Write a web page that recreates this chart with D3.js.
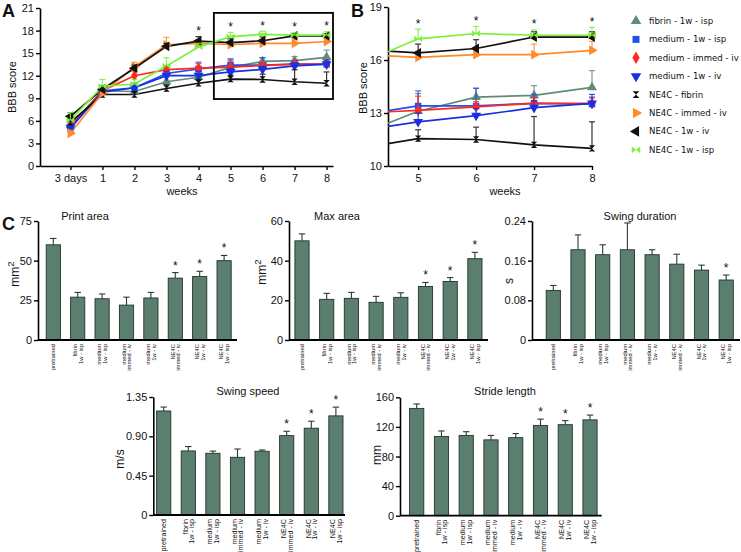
<!DOCTYPE html>
<html><head><meta charset="utf-8">
<script src="https://cdn.jsdelivr.net/npm/d3@7"></script>
<style>
body{margin:0;background:#fff}
svg{display:block}
text{font-family:"Liberation Sans",Arial,sans-serif;fill:#111}
</style>
</head><body>
<svg id="chart" width="741" height="552"></svg>
<script>
// ---------------- DATA ----------------
const weekLabels = ["3 days","1","2","3","4","5","6","7","8"];
const weekPos = [0,1,2,3,4,5,6,7,8];

const seriesNames = ["fibrin - 1w - isp","medium - 1w - isp","medium - immed - iv","medium - 1w - iv",
                     "NE4C - fibrin","NE4C - immed - iv","NE4C - 1w - iv","NE4C - 1w - isp"];

const fibrin1wIsp      = [5.4, 10.0, 9.9, 11.2, 11.8, 13.1, 13.9, 14.0, 14.45];
const fibrin1wIspErr   = [0.6, 0.6, 0.5, 0.7, 0.6, 1.0, 0.5, 0.55, 0.95];
const medium1wIsp      = [5.0, 10.0, 10.4, 12.3, 12.9, 13.4, 13.4, 13.55, 13.5];
const medium1wIspErr   = [0.5, 0.5, 0.5, 0.8, 0.9, 0.85, 1.0, 0.5, 0.4];
const mediumImmedIv    = [5.3, 10.0, 12.0, 12.8, 13.0, 13.15, 13.35, 13.55, 13.55];
const mediumImmedIvErr = [0.5, 0.5, 0.6, 0.5, 0.6, 0.8, 0.3, 0.3, 0.3];
const medium1wIv       = [5.1, 9.8, 10.4, 12.0, 12.0, 12.5, 12.85, 13.3, 13.55];
const medium1wIvErr    = [0.5, 0.5, 0.6, 0.6, 0.6, 0.5, 0.4, 0.4, 0.5];
const ne4cFibrin       = [5.8, 9.5, 9.5, 10.3, 11.0, 11.55, 11.5, 11.2, 11.0];
const ne4cFibrinErr    = [0.5, 0.5, 0.4, 0.5, 0.5, 0.5, 0.7, 1.6, 1.5];
const ne4cImmedIv      = [4.35, 9.7, 13.2, 16.1, 16.3, 16.15, 16.3, 16.3, 16.55];
const ne4cImmedIvErr   = [0.4, 0.5, 0.6, 1.0, 0.5, 0.3, 0.3, 0.6, 0.5];
const ne4c1wIv         = [6.6, 10.2, 13.0, 15.9, 16.6, 16.4, 16.65, 17.3, 17.3];
const ne4c1wIvErr      = [0.5, 0.5, 0.4, 0.4, 0.6, 0.5, 0.5, 0.3, 0.3];
const ne4c1wIsp        = [6.1, 10.6, 10.9, 13.3, 15.8, 17.2, 17.5, 17.4, 17.4];
const ne4c1wIspErr     = [1.0, 0.9, 0.6, 1.1, 0.5, 0.55, 0.4, 0.3, 0.45];

const starWeeksA = [4,5,6,7,8];
const starWeeksB = [5,6,7,8];
const ticksA = [0,3,6,9,12,15,18,21];
const ticksB = [10,13,16,19];
const weeksB = [5,6,7,8];

const barCategories = [["pretrained"],["fibrin","1w - isp"],["medium","1w - isp"],["medium","immed - iv"],
                       ["medium","1w - iv"],["NE4C","immed - iv"],["NE4C","1w - iv"],["NE4C","1w - isp"]];
const printArea        = [60, 27, 26, 22, 26.5, 39, 40, 50];
const printAreaErr     = [4, 3, 3, 5, 3.5, 3.5, 3.3, 3.3];
const printAreaStars   = [5,6,7];
const printAreaTicks   = [0,25,50,75];
const maxArea          = [50, 20.5, 21, 19, 21.5, 27, 29.5, 41];
const maxAreaErr       = [3.5, 3, 3, 3, 2.3, 2, 2, 3.2];
const maxAreaStars     = [5,6,7];
const maxAreaTicks     = [0,20,40,60];
const swingDuration    = [0.100, 0.182, 0.172, 0.182, 0.172, 0.153, 0.141, 0.121];
const swingDurationErr = [0.010, 0.030, 0.020, 0.054, 0.010, 0.020, 0.010, 0.010];
const swingDurationStars = [7];
const swingDurationTicks = [0,0.08,0.16,0.24];
const swingSpeed       = [1.19, 0.733, 0.706, 0.66, 0.729, 0.908, 0.993, 1.134];
const swingSpeedErr    = [0.045, 0.05, 0.025, 0.095, 0.015, 0.05, 0.08, 0.10];
const swingSpeedStars  = [5,6,7];
const swingSpeedTicks  = [0,0.45,0.90,1.35];
const strideLength     = [145, 107, 108.5, 102.5, 105.5, 122, 123, 129.5];
const strideLengthErr  = [6, 7.5, 5, 6, 5.5, 8.5, 5.5, 6.5];
const strideLengthStars= [5,6,7];
const strideLengthTicks= [0,40,80,120,160];

// ---------------- STYLE ----------------
const hourglass = {draw(c, size){const r=Math.sqrt(size)/2; c.moveTo(-r,-r); c.lineTo(r,-r); c.lineTo(-r,r); c.lineTo(r,r); c.closePath();}};
const bowtie = {draw(c, size){const r=Math.sqrt(size)/2, w=r*1.25; c.moveTo(-w,-r); c.lineTo(-w,r); c.lineTo(w,-r); c.lineTo(w,r); c.closePath();}};
const styles = [
  {color:"#5f8b79", type:d3.symbolTriangle, rot:0, size:42},
  {color:"#1f4ef2", type:d3.symbolSquare, rot:0, size:42},
  {color:"#ff2a1e", type:d3.symbolDiamond, rot:0, size:40},
  {color:"#1a30e0", type:d3.symbolTriangle, rot:180, size:42},
  {color:"#111111", type:hourglass, rot:0, size:40},
  {color:"#ff8a2a", type:d3.symbolTriangle, rot:90, size:42},
  {color:"#111111", type:d3.symbolTriangle, rot:-90, size:42},
  {color:"#7cf03a", type:bowtie, rot:0, size:40}
];
const valueArrays = [fibrin1wIsp, medium1wIsp, mediumImmedIv, medium1wIv, ne4cFibrin, ne4cImmedIv, ne4c1wIv, ne4c1wIsp];
const errArrays = [fibrin1wIspErr, medium1wIspErr, mediumImmedIvErr, medium1wIvErr, ne4cFibrinErr, ne4cImmedIvErr, ne4c1wIvErr, ne4c1wIspErr];
const series = seriesNames.map((n,i)=>({name:n, pts: weekPos.map((w,j)=>({w, v:valueArrays[i][j], e:errArrays[i][j]})), ...styles[i]}));

const svg = d3.select("#chart");
const TF = 11;

function styleAxis(g, fs){
  g.selectAll(".domain").attr("stroke","#000").attr("stroke-width",1.6);
  g.selectAll(".tick line").attr("stroke","#000").attr("stroke-width",1.4);
  g.selectAll(".tick text").attr("font-size",fs).attr("fill","#111").attr("font-family",'"Liberation Sans",Arial,sans-serif');
}

function drawLinePanel(g, x, y, weeksShown, clipId){
  const line = d3.line().x(d=>x(d.w)).y(d=>y(d.v));
  const lg = g.append("g");
  if(clipId) lg.attr("clip-path",`url(#${clipId})`);
  series.forEach(s=>{
    lg.append("path").datum(s.pts).attr("d",line).attr("fill","none").attr("stroke",s.color).attr("stroke-width",1.7);
  });
  series.forEach(s=>{
    const pts = s.pts.filter(p=>weeksShown.includes(p.w));
    const eg = g.append("g").attr("stroke",s.color).attr("stroke-width",1.2).attr("opacity",0.85);
    pts.forEach(p=>{
      eg.append("line").attr("x1",x(p.w)).attr("x2",x(p.w)).attr("y1",y(p.v)).attr("y2",y(p.v+p.e));
      eg.append("line").attr("x1",x(p.w)-3).attr("x2",x(p.w)+3).attr("y1",y(p.v+p.e)).attr("y2",y(p.v+p.e));
    });
    g.append("g").selectAll("path").data(pts).join("path")
      .attr("d", d3.symbol().type(s.type).size(s.size))
      .attr("transform", p=>`translate(${x(p.w)},${y(p.v)}) rotate(${s.rot})`)
      .attr("fill", s.color);
  });
}

function starsFor(g, x, y, weeks){
  weeks.forEach(w=>{
    const top = d3.min(series, s=>y(s.pts[w].v + s.pts[w].e));
    g.append("text").attr("x",x(w)).attr("y",top-1.5).attr("text-anchor","middle").attr("font-size",12).text("*");
  });
}

// ---------------- PANEL A ----------------
{
  const x = d3.scaleLinear().domain([-0.95, 8.2]).range([40, 333]);
  const y = d3.scaleLinear().domain([0, 21]).range([166, 8]);
  const g = svg.append("g");
  const ya = g.append("g").attr("transform","translate(40,0)").call(d3.axisLeft(y).tickValues(ticksA).tickSize(4).tickSizeOuter(0).tickPadding(2));
  styleAxis(ya, TF);
  const xa = g.append("g").attr("transform","translate(0,166)").call(d3.axisBottom(x).tickValues(weekPos).tickFormat(i=>weekLabels[i]).tickSize(4).tickSizeOuter(0).tickPadding(4));
  styleAxis(xa, TF);
  drawLinePanel(g, x, y, weekPos, null);
  starsFor(g, x, y, starWeeksA);
  g.append("rect").attr("x",x(4.48)).attr("y",y(20.35)).attr("width",x(8.2)-x(4.48)).attr("height",y(8.9)-y(20.35))
    .attr("fill","none").attr("stroke","#000").attr("stroke-width",1.8);
  g.append("text").attr("transform","translate(16,87) rotate(-90)").attr("text-anchor","middle").attr("font-size",TF).text("BBB score");
  g.append("text").attr("x",182).attr("y",195).attr("text-anchor","middle").attr("font-size",TF).text("weeks");
  svg.append("text").attr("x",2).attr("y",17).attr("font-size",18).attr("font-weight","bold").text("A");
}

// ---------------- PANEL B ----------------
{
  const x = d3.scaleLinear().domain([4.48, 8]).range([388, 592]);
  const y = d3.scaleLinear().domain([10, 19]).range([166, 7]);
  const g = svg.append("g");
  svg.append("defs").append("clipPath").attr("id","clipB").append("rect").attr("x",388).attr("y",0).attr("width",204).attr("height",166);
  const ya = g.append("g").attr("transform","translate(388,0)").call(d3.axisLeft(y).tickValues(ticksB).tickSize(4).tickSizeOuter(0).tickPadding(2));
  styleAxis(ya, TF);
  const xa = g.append("g").attr("transform","translate(0,166)").call(d3.axisBottom(x).tickValues(weeksB).tickFormat(d3.format("d")).tickSize(4).tickSizeOuter(0).tickPadding(4));
  styleAxis(xa, TF);
  drawLinePanel(g, x, y, weeksB, "clipB");
  starsFor(g, x, y, starWeeksB);
  g.append("text").attr("transform","translate(367,88) rotate(-90)").attr("text-anchor","middle").attr("font-size",TF).text("BBB score");
  g.append("text").attr("x",505).attr("y",195).attr("text-anchor","middle").attr("font-size",TF).text("weeks");
  svg.append("text").attr("x",351).attr("y",17).attr("font-size",18).attr("font-weight","bold").text("B");
}

// ---------------- LEGEND ----------------
{
  const lg = svg.append("g");
  series.forEach((s,i)=>{
    const yy = 21 + i*18.4;
    lg.append("path").attr("d", d3.symbol().type(s.type).size(s.size*1.15)).attr("transform",`translate(636,${yy}) rotate(${s.rot})`).attr("fill",s.color);
    lg.append("text").attr("x",649).attr("y",yy).attr("dy","0.35em").attr("font-size",8.6)
      .style("font-family",'"DejaVu Sans",sans-serif').text(s.name);
  });
}

// ---------------- PANEL C ----------------
const fmt2 = d => d===0 ? "0" : d3.format(".2f")(d);
const barPanels = [
  {title:"Print area", values:printArea, err:printAreaErr, stars:printAreaStars, ticks:printAreaTicks, fmt:d=>d, unit:"mm", sup:"2",
   ax:38, x1:237, top:221, bottom:340, c0:53.3, step:24.4, tx:85, ty:220, ux:19, uy:274, cf:5.8, cl:5.6},
  {title:"Max area", values:maxArea, err:maxAreaErr, stars:maxAreaStars, ticks:maxAreaTicks, fmt:d=>d, unit:"mm", sup:"2",
   ax:289, x1:488, top:221, bottom:340, c0:302, step:24.7, tx:337, ty:220, ux:266, uy:272, cf:5.8, cl:5.6},
  {title:"Swing duration", values:swingDuration, err:swingDurationErr, stars:swingDurationStars, ticks:swingDurationTicks, fmt:fmt2, unit:"s", sup:"",
   ax:532, x1:740, top:221, bottom:340, c0:553.3, step:24.7, tx:640, ty:220, ux:513, uy:281, cf:5.8, cl:5.6},
  {title:"Swing speed", values:swingSpeed, err:swingSpeedErr, stars:swingSpeedStars, ticks:swingSpeedTicks, fmt:fmt2, unit:"m/s", sup:"",
   ax:153.3, x1:345, top:397, bottom:515, c0:163.7, step:24.6, tx:248, ty:395, ux:124, uy:459, cf:7.2, cl:6.6},
  {title:"Stride length", values:strideLength, err:strideLengthErr, stars:strideLengthStars, ticks:strideLengthTicks, fmt:d=>d, unit:"mm", sup:"",
   ax:400, x1:601.7, top:397.3, bottom:515.7, c0:416.7, step:24.76, tx:505, ty:395, ux:381, uy:455, cf:7.2, cl:6.6}
];

barPanels.forEach(p=>{
  const g = svg.append("g");
  const idx = d3.range(barCategories.length);
  const x = d3.scalePoint().domain(idx).range([p.c0, p.c0 + p.step*(idx.length-1)]);
  const bw = 14.2;
  const y = d3.scaleLinear().domain([0, p.ticks[p.ticks.length-1]]).range([p.bottom, p.top]);
  g.selectAll("rect.bar").data(idx).join("rect").attr("class","bar")
    .attr("x", i=>x(i)-bw/2).attr("y", i=>y(p.values[i])).attr("width", bw).attr("height", i=>y(0)-y(p.values[i]))
    .attr("fill","#5b7f6f").attr("stroke","#24332c").attr("stroke-width",0.9);
  idx.forEach(i=>{
    const v=p.values[i], e=p.err[i];
    g.append("line").attr("x1",x(i)).attr("x2",x(i)).attr("y1",y(v)).attr("y2",y(v+e)).attr("stroke","#2a3a33").attr("stroke-width",1.1);
    g.append("line").attr("x1",x(i)-3.2).attr("x2",x(i)+3.2).attr("y1",y(v+e)).attr("y2",y(v+e)).attr("stroke","#2a3a33").attr("stroke-width",1.1);
  });
  p.stars.forEach(i=>{
    g.append("text").attr("x",x(i)).attr("y",y(p.values[i]+p.err[i])-3).attr("text-anchor","middle").attr("font-size",12).text("*");
  });
  const ya = g.append("g").attr("transform",`translate(${p.ax},0)`).call(d3.axisLeft(y).tickValues(p.ticks).tickFormat(p.fmt).tickSize(4).tickSizeOuter(0).tickPadding(2));
  styleAxis(ya, TF);
  g.append("line").attr("x1",p.ax).attr("x2",p.x1).attr("y1",p.bottom).attr("y2",p.bottom).attr("stroke","#000").attr("stroke-width",1.8);
  idx.forEach(i=>{
    const lines = barCategories[i];
    const t = g.append("text").attr("transform",`translate(${x(i)},${p.bottom+4}) rotate(-90)`)
      .attr("text-anchor","end").attr("font-size",p.cf);
    const off0 = -(lines.length-1)*p.cl/2;
    lines.forEach((ln,k)=>{
      t.append("tspan").attr("x",0).attr("y", off0 + k*p.cl).attr("dy","0.35em").text(ln);
    });
  });
  g.append("text").attr("x",p.tx).attr("y",p.ty).attr("text-anchor","middle").attr("font-size",TF).text(p.title);
  const u = g.append("text").attr("transform",`translate(${p.ux},${p.uy}) rotate(-90)`).attr("text-anchor","middle").attr("font-size",12).text(p.unit);
  if(p.sup) u.append("tspan").attr("dy",-5).attr("font-size",9.5).text(p.sup);
});
svg.append("text").attr("x",2).attr("y",230).attr("font-size",18).attr("font-weight","bold").text("C");
</script>
</body></html>
